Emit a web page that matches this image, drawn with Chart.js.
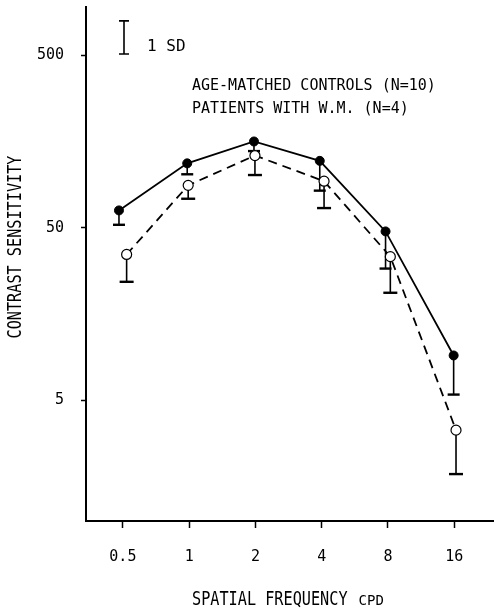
<!DOCTYPE html>
<html>
<head>
<meta charset="utf-8">
<style>
  html, body { margin: 0; padding: 0; background: #fff; }
</style>
<script src="https://cdn.jsdelivr.net/npm/chart.js@4"></script>
</head>
<body>
<canvas id="csfChart" width="494" height="608"></canvas>
<script>
// spatial frequency ticks (cpd) and contrast sensitivity ticks
const freqTicks  = [0.5, 1, 2, 4, 8, 16];
const freqLabels = ['0.5', '1', '2', '4', '8', '16'];
const sensTicks  = [5, 50, 500];

// age-matched controls (n=10): plotted frequency, mean, mean - 1 SD
const controlsFreq = [0.48, 0.98, 1.97, 3.92, 7.8, 15.9];
const controlsMean = [63, 118, 158, 122, 47.6, 9.1];
const controlsLow  = [52, 102, 139, 82, 29, 5.4];

// patients with W.M. (n=4)
const patientsFreq = [0.52, 0.99, 1.99, 4.1, 8.2, 16.3];
const patientsMean = [35, 88, 131, 93, 34, 3.36];
const patientsLow  = [24.3, 73.6, 101, 65, 21, 1.87];

const mono = 'DejaVu Sans Mono';

const toPoints = (f, m, lo) => f.map((v, i) => ({ x: v, y: m[i], low: lo[i] }));

// one-sided SD bars, drawn under the markers
const errorBars = {
  id: 'errorBars',
  beforeDatasetsDraw(chart) {
    const { ctx, scales: { x, y } } = chart;
    ctx.save();
    ctx.strokeStyle = '#000';
    chart.data.datasets.forEach(ds => {
      const half = ds.capHalf;
      ds.data.forEach(p => {
        const px = x.getPixelForValue(p.x);
        const top = y.getPixelForValue(p.y);
        const bot = y.getPixelForValue(p.low);
        ctx.lineWidth = 1.6;
        ctx.beginPath();
        ctx.moveTo(px, top);
        ctx.lineTo(px, bot);
        ctx.stroke();
        ctx.lineWidth = 2.4;
        ctx.beginPath();
        ctx.moveTo(px - half, bot);
        ctx.lineTo(px + half, bot);
        ctx.stroke();
      });
    });
    ctx.restore();
  }
};

// legend text, 1 SD key and axis titles
const labels = {
  id: 'labels',
  afterDraw(chart) {
    const { ctx, chartArea: area, scales: { y } } = chart;
    ctx.save();
    ctx.fillStyle = '#000';
    ctx.strokeStyle = '#000';

    // 1 SD key
    const kx = area.left + 38;
    const k1 = y.getPixelForValue(790), k2 = y.getPixelForValue(507);
    ctx.lineWidth = 1.6;
    ctx.beginPath();
    ctx.moveTo(kx, k1); ctx.lineTo(kx, k2);
    ctx.moveTo(kx - 5, k1); ctx.lineTo(kx + 5, k1);
    ctx.moveTo(kx - 5, k2); ctx.lineTo(kx + 5, k2);
    ctx.stroke();
    ctx.font = '16px ' + mono;
    ctx.textBaseline = 'alphabetic';
    ctx.textAlign = 'left';
    ctx.fillText('1 SD', area.left + 61, area.top + 44);

    // legend
    ctx.font = '15px ' + mono;
    ctx.fillText('AGE-MATCHED CONTROLS (N=10)', area.left + 106, area.top + 83);
    ctx.fillText('PATIENTS WITH W.M. (N=4)', area.left + 106, area.top + 106);

    // y title
    ctx.save();
    ctx.translate(21, 247);
    ctx.rotate(-Math.PI / 2);
    ctx.scale(0.8, 1);
    ctx.font = '19px ' + mono;
    ctx.textAlign = 'center';
    ctx.fillText('CONTRAST SENSITIVITY', 0, 0);
    ctx.restore();

    // x title
    ctx.save();
    ctx.translate(192, 605);
    ctx.scale(0.8, 1);
    ctx.font = '19px ' + mono;
    ctx.fillText('SPATIAL FREQUENCY', 0, 0);
    const w = ctx.measureText('SPATIAL FREQUENCY').width * 0.8;
    ctx.restore();
    ctx.font = '14px ' + mono;
    ctx.fillText('CPD', 192 + w + 11, 605);

    ctx.restore();
  }
};

const tickFont = { family: mono, size: 15 };

new Chart(document.getElementById('csfChart').getContext('2d'), {
  type: 'line',
  data: {
    datasets: [
      {
        label: 'Age-matched controls (N=10)',
        data: toPoints(controlsFreq, controlsMean, controlsLow),
        borderColor: '#000',
        borderWidth: 1.8,
        pointRadius: 4.5,
        pointBackgroundColor: '#000',
        pointBorderColor: '#000',
        pointBorderWidth: 1,
        capHalf: 6
      },
      {
        label: 'Patients with W.M. (N=4)',
        data: toPoints(patientsFreq, patientsMean, patientsLow),
        borderColor: '#000',
        borderWidth: 1.8,
        borderDash: [9, 6],
        pointRadius: 5,
        pointBackgroundColor: '#fff',
        pointBorderColor: '#000',
        pointBorderWidth: 1.2,
        capHalf: 7
      }
    ]
  },
  options: {
    responsive: false,
    animation: false,
    layout: { autoPadding: false, padding: { top: 7, right: 0, bottom: 0, left: 0 } },
    plugins: { legend: { display: false }, tooltip: { enabled: false } },
    scales: {
      x: {
        type: 'logarithmic',
        position: 'bottom',
        min: 0.34,
        max: 24.25,
        bounds: 'data',
        afterBuildTicks: s => { s.ticks = freqTicks.map(v => ({ value: v })); },
        afterFit: s => { s.height = 87; s.paddingLeft = 0; s.paddingRight = 0; },
        ticks: {
          autoSkip: false,
          maxRotation: 0,
          padding: 20,
          color: '#000',
          font: tickFont,
          callback: (v, i) => freqLabels[i]
        },
        grid: { drawOnChartArea: false, tickLength: 7, tickWidth: 1.5, tickColor: '#000' },
        border: { color: '#000', width: 2 }
      },
      y: {
        type: 'logarithmic',
        min: 1,
        max: 950,
        bounds: 'data',
        afterBuildTicks: s => { s.ticks = sensTicks.map(v => ({ value: v })); },
        afterFit: s => { s.width = 86; s.paddingTop = 0; s.paddingBottom = 0; },
        ticks: {
          padding: 17,
          color: '#000',
          font: tickFont,
          callback: v => String(v)
        },
        grid: { drawOnChartArea: false, tickLength: 5, tickWidth: 1.5, tickColor: '#000' },
        border: { color: '#000', width: 2 }
      }
    }
  },
  plugins: [errorBars, labels]
});
</script>
</body>
</html>
